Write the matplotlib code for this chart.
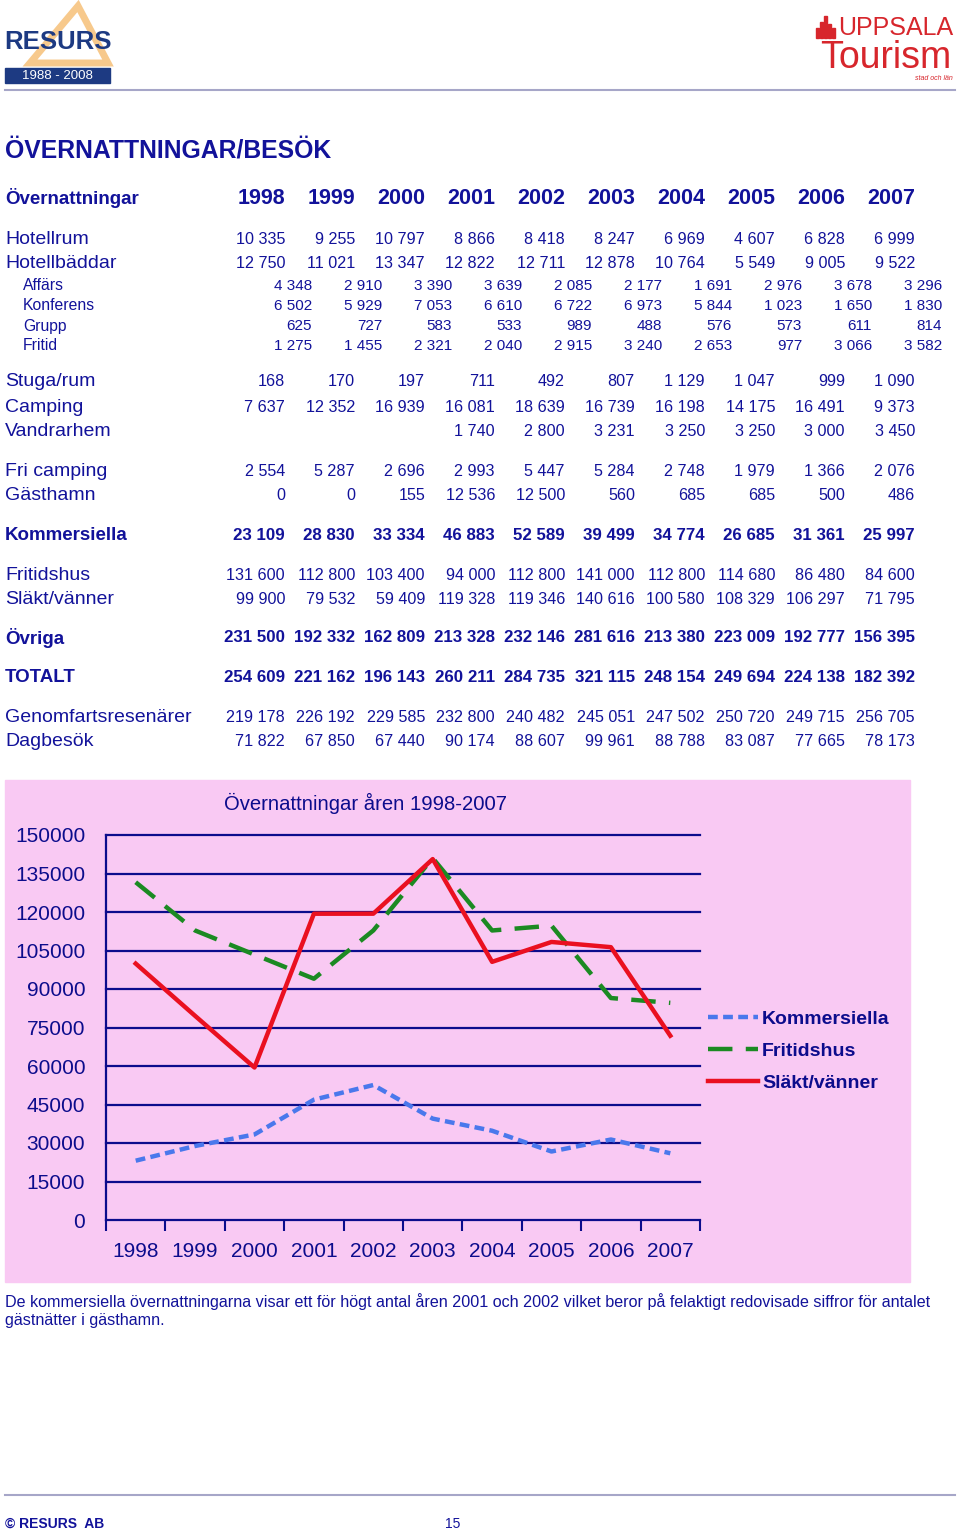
import matplotlib
matplotlib.use("Agg")
import matplotlib.pyplot as plt
from matplotlib.patches import Rectangle, Polygon

# ---- data ----
years = [1998, 1999, 2000, 2001, 2002, 2003, 2004, 2005, 2006, 2007]

hotellrum = [10335, 9255, 10797, 8866, 8418, 8247, 6969, 4607, 6828, 6999]
hotellbaddar = [12750, 11021, 13347, 12822, 12711, 12878, 10764, 5549, 9005, 9522]
affars = [4348, 2910, 3390, 3639, 2085, 2177, 1691, 2976, 3678, 3296]
konferens = [6502, 5929, 7053, 6610, 6722, 6973, 5844, 1023, 1650, 1830]
grupp = [625, 727, 583, 533, 989, 488, 576, 573, 611, 814]
fritid = [1275, 1455, 2321, 2040, 2915, 3240, 2653, 977, 3066, 3582]
stuga = [168, 170, 197, 711, 492, 807, 1129, 1047, 999, 1090]
camping = [7637, 12352, 16939, 16081, 18639, 16739, 16198, 14175, 16491, 9373]
vandrarhem = [None, None, None, 1740, 2800, 3231, 3250, 3250, 3000, 3450]
fri_camping = [2554, 5287, 2696, 2993, 5447, 5284, 2748, 1979, 1366, 2076]
gasthamn = [0, 0, 155, 12536, 12500, 560, 685, 685, 500, 486]
kommersiella = [23109, 28830, 33334, 46883, 52589, 39499, 34774, 26685, 31361, 25997]
fritidshus = [131600, 112800, 103400, 94000, 112800, 141000, 112800, 114680, 86480, 84600]
slakt = [99900, 79532, 59409, 119328, 119346, 140616, 100580, 108329, 106297, 71795]
ovriga = [231500, 192332, 162809, 213328, 232146, 281616, 213380, 223009, 192777, 156395]
totalt = [254609, 221162, 196143, 260211, 284735, 321115, 248154, 249694, 224138, 182392]
genomfart = [219178, 226192, 229585, 232800, 240482, 245051, 247502, 250720, 249715, 256705]
dagbesok = [71822, 67850, 67440, 90174, 88607, 99961, 88788, 83087, 77665, 78173]

NAVY = "#12129a"
CHART_NAVY = "#0c0c8c"
PINK = "#f9c9f3"
SANS = ["Liberation Sans", "DejaVu Sans"]

plt.rcParams["font.family"] = SANS


def fmt(v):
    if v is None:
        return ""
    return "{:,}".format(v).replace(",", " ")


fig = plt.figure(figsize=(9.6, 15.33), dpi=100)

# overlay axes in pixel coordinates for the page layout
pg = fig.add_axes([0, 0, 1, 1], zorder=0)
pg.set_xlim(0, 960)
pg.set_ylim(1533, 0)
pg.axis("off")

# --- header logos ---
pg.add_patch(Polygon([[78, 6], [30, 63], [108, 63]], closed=True, fill=False,
                     edgecolor="#f7c98c", lw=5))
pg.text(4, 42, "RESURS", fontsize=18.5, fontweight="bold", color="#1d3a82",
        va="center", ha="left")
pg.add_patch(Rectangle((5, 68), 105, 15, color="#1d3a82"))
pg.text(57, 76, "1988 - 2008", fontsize=9.5, color="white",
        va="center", ha="center")

for bx, bh in [(816, 10), (820, 16), (824, 22), (828, 14), (832, 10)]:
    pg.add_patch(Rectangle((bx, 38 - bh), 3, bh, color="#d7262c"))
pg.text(838, 28, "UPPSALA", fontsize=18, color="#d7262c",
        va="center", ha="left")
pg.text(886, 58, "Tourism", fontsize=27, color="#d7262c",
        va="center", ha="center")
pg.text(953, 78, "stad och län", fontsize=5, color="#d7262c", style="italic",
        va="center", ha="right")
pg.plot([5, 955], [90, 90], color="#a6a6c8", lw=1.5)

# --- table ---
pg.text(5, 151, "ÖVERNATTNINGAR/BESÖK", fontsize=17.8, fontweight="bold",
        color=NAVY, va="center", ha="left")

col_right = [285 + 70 * i for i in range(len(years))]
sub_right = [312 + 70 * i for i in range(len(years))]

pg.text(5, 198, "Övernattningar", fontsize=13.5, fontweight="bold", color=NAVY,
        va="center", ha="left")
for x, yr in zip(col_right, years):
    pg.text(x, 198, str(yr), fontsize=15.5, fontweight="bold", color=NAVY,
            va="center", ha="right")

rows = [
    ("Hotellrum", hotellrum, 240, "main"),
    ("Hotellbäddar", hotellbaddar, 264, "main"),
    ("Affärs", affars, 286, "sub"),
    ("Konferens", konferens, 306, "sub"),
    ("Grupp", grupp, 326, "sub"),
    ("Fritid", fritid, 346, "sub"),
    ("Stuga/rum", stuga, 382, "main"),
    ("Camping", camping, 407, "main"),
    ("Vandrarhem", vandrarhem, 432, "main"),
    ("Fri camping", fri_camping, 471, "main"),
    ("Gästhamn", gasthamn, 496, "main"),
    ("Kommersiella", kommersiella, 535, "bold"),
    ("Fritidshus", fritidshus, 575, "main"),
    ("Släkt/vänner", slakt, 599, "main"),
    ("Övriga", ovriga, 638, "bold"),
    ("TOTALT", totalt, 678, "bold"),
    ("Genomfartsresenärer", genomfart, 718, "main"),
    ("Dagbesök", dagbesok, 742, "main"),
]

for label, vals, y, kind in rows:
    if kind == "sub":
        pg.text(23, y, label, fontsize=11.3, color=NAVY, va="center", ha="left")
        for x, v in zip(sub_right, vals):
            pg.text(x, y, fmt(v), fontsize=11, color=NAVY, va="center", ha="right")
    elif kind == "bold":
        pg.text(5, y, label, fontsize=13.5, fontweight="bold", color=NAVY,
                va="center", ha="left")
        for x, v in zip(col_right, vals):
            pg.text(x, y, fmt(v), fontsize=12.2, fontweight="bold", color=NAVY,
                    va="center", ha="right")
    else:
        pg.text(5, y, label, fontsize=14, color=NAVY, va="center", ha="left")
        for x, v in zip(col_right, vals):
            pg.text(x, y, fmt(v), fontsize=11.6, color=NAVY,
                    va="center", ha="right")

# --- chart ---
pg.add_patch(Rectangle((5, 780), 905, 502, color=PINK, zorder=0))
pg.text(365, 803, "Övernattningar åren 1998-2007", fontsize=14.6, color=CHART_NAVY,
        va="center", ha="center")

W, H = 960.0, 1533.0
ax = fig.add_axes([106 / W, 1 - 1220 / H, (700 - 106) / W, (1220 - 835) / H],
                  zorder=1)
ax.patch.set_alpha(0)
xs = list(range(len(years)))

ax.plot(xs, kommersiella, color="#4a78ec", lw=3.2, ls=(0, (2.2, 1.2)),
        label="Kommersiella")
ax.plot(xs, fritidshus, color="#1b8a22", lw=3.2, ls=(0, (5.5, 3.0)),
        label="Fritidshus")
ax.plot(xs, slakt, color="#ea1020", lw=3.2, label="Släkt/vänner")

ax.set_xlim(-0.5, len(years) - 0.5)
ax.set_ylim(0, 150000)
ax.set_yticks(range(0, 150001, 15000))
ax.set_yticklabels([str(v) for v in range(0, 150001, 15000)])
for v in range(15000, 150001, 15000):
    ax.axhline(v, color=CHART_NAVY, lw=1.6, zorder=0.5, clip_on=False)
ax.set_xticks(xs)
ax.set_xticklabels([str(y) for y in years])
ax.set_xticks([i - 0.5 for i in range(len(years) + 1)], minor=True)
ax.tick_params(axis="x", which="major", length=0, pad=16, labelsize=15,
               labelcolor=CHART_NAVY)
ax.tick_params(axis="x", which="minor", length=8, width=1.5, color=CHART_NAVY,
               direction="out")
ax.tick_params(axis="y", length=0, pad=15, labelsize=15, labelcolor=CHART_NAVY)
for s in ["top", "right"]:
    ax.spines[s].set_visible(False)
for s in ["left", "bottom"]:
    ax.spines[s].set_color(CHART_NAVY)
    ax.spines[s].set_linewidth(1.6)

leg = ax.legend(loc="center left", bbox_to_anchor=(700 / W, 1 - 1051 / H),
                bbox_transform=fig.transFigure, frameon=False,
                prop={"weight": "bold", "size": 14},
                handlelength=2.6, handletextpad=0.2, labelspacing=0.75,
                borderaxespad=0)
for t in leg.get_texts():
    t.set_color(CHART_NAVY)

# --- caption and footer ---
pg.text(5, 1302, "De kommersiella övernattningarna visar ett för högt antal åren 2001 och 2002 "
        "vilket beror på felaktigt redovisade siffror för antalet",
        fontsize=11.6, color=NAVY, va="center", ha="left")
pg.text(5, 1321, "gästnätter i gästhamn.", fontsize=11.6, color=NAVY,
        va="center", ha="left")
pg.plot([5, 955], [1495, 1495], color="#a6a6c8", lw=1.5)
pg.text(5, 1524, "© RESURS  AB", fontsize=10, fontweight="bold", color=NAVY,
        va="center", ha="left")
pg.text(445, 1524, "15", fontsize=10, color=NAVY, va="center", ha="left")

fig.savefig("out.png", dpi=100)
